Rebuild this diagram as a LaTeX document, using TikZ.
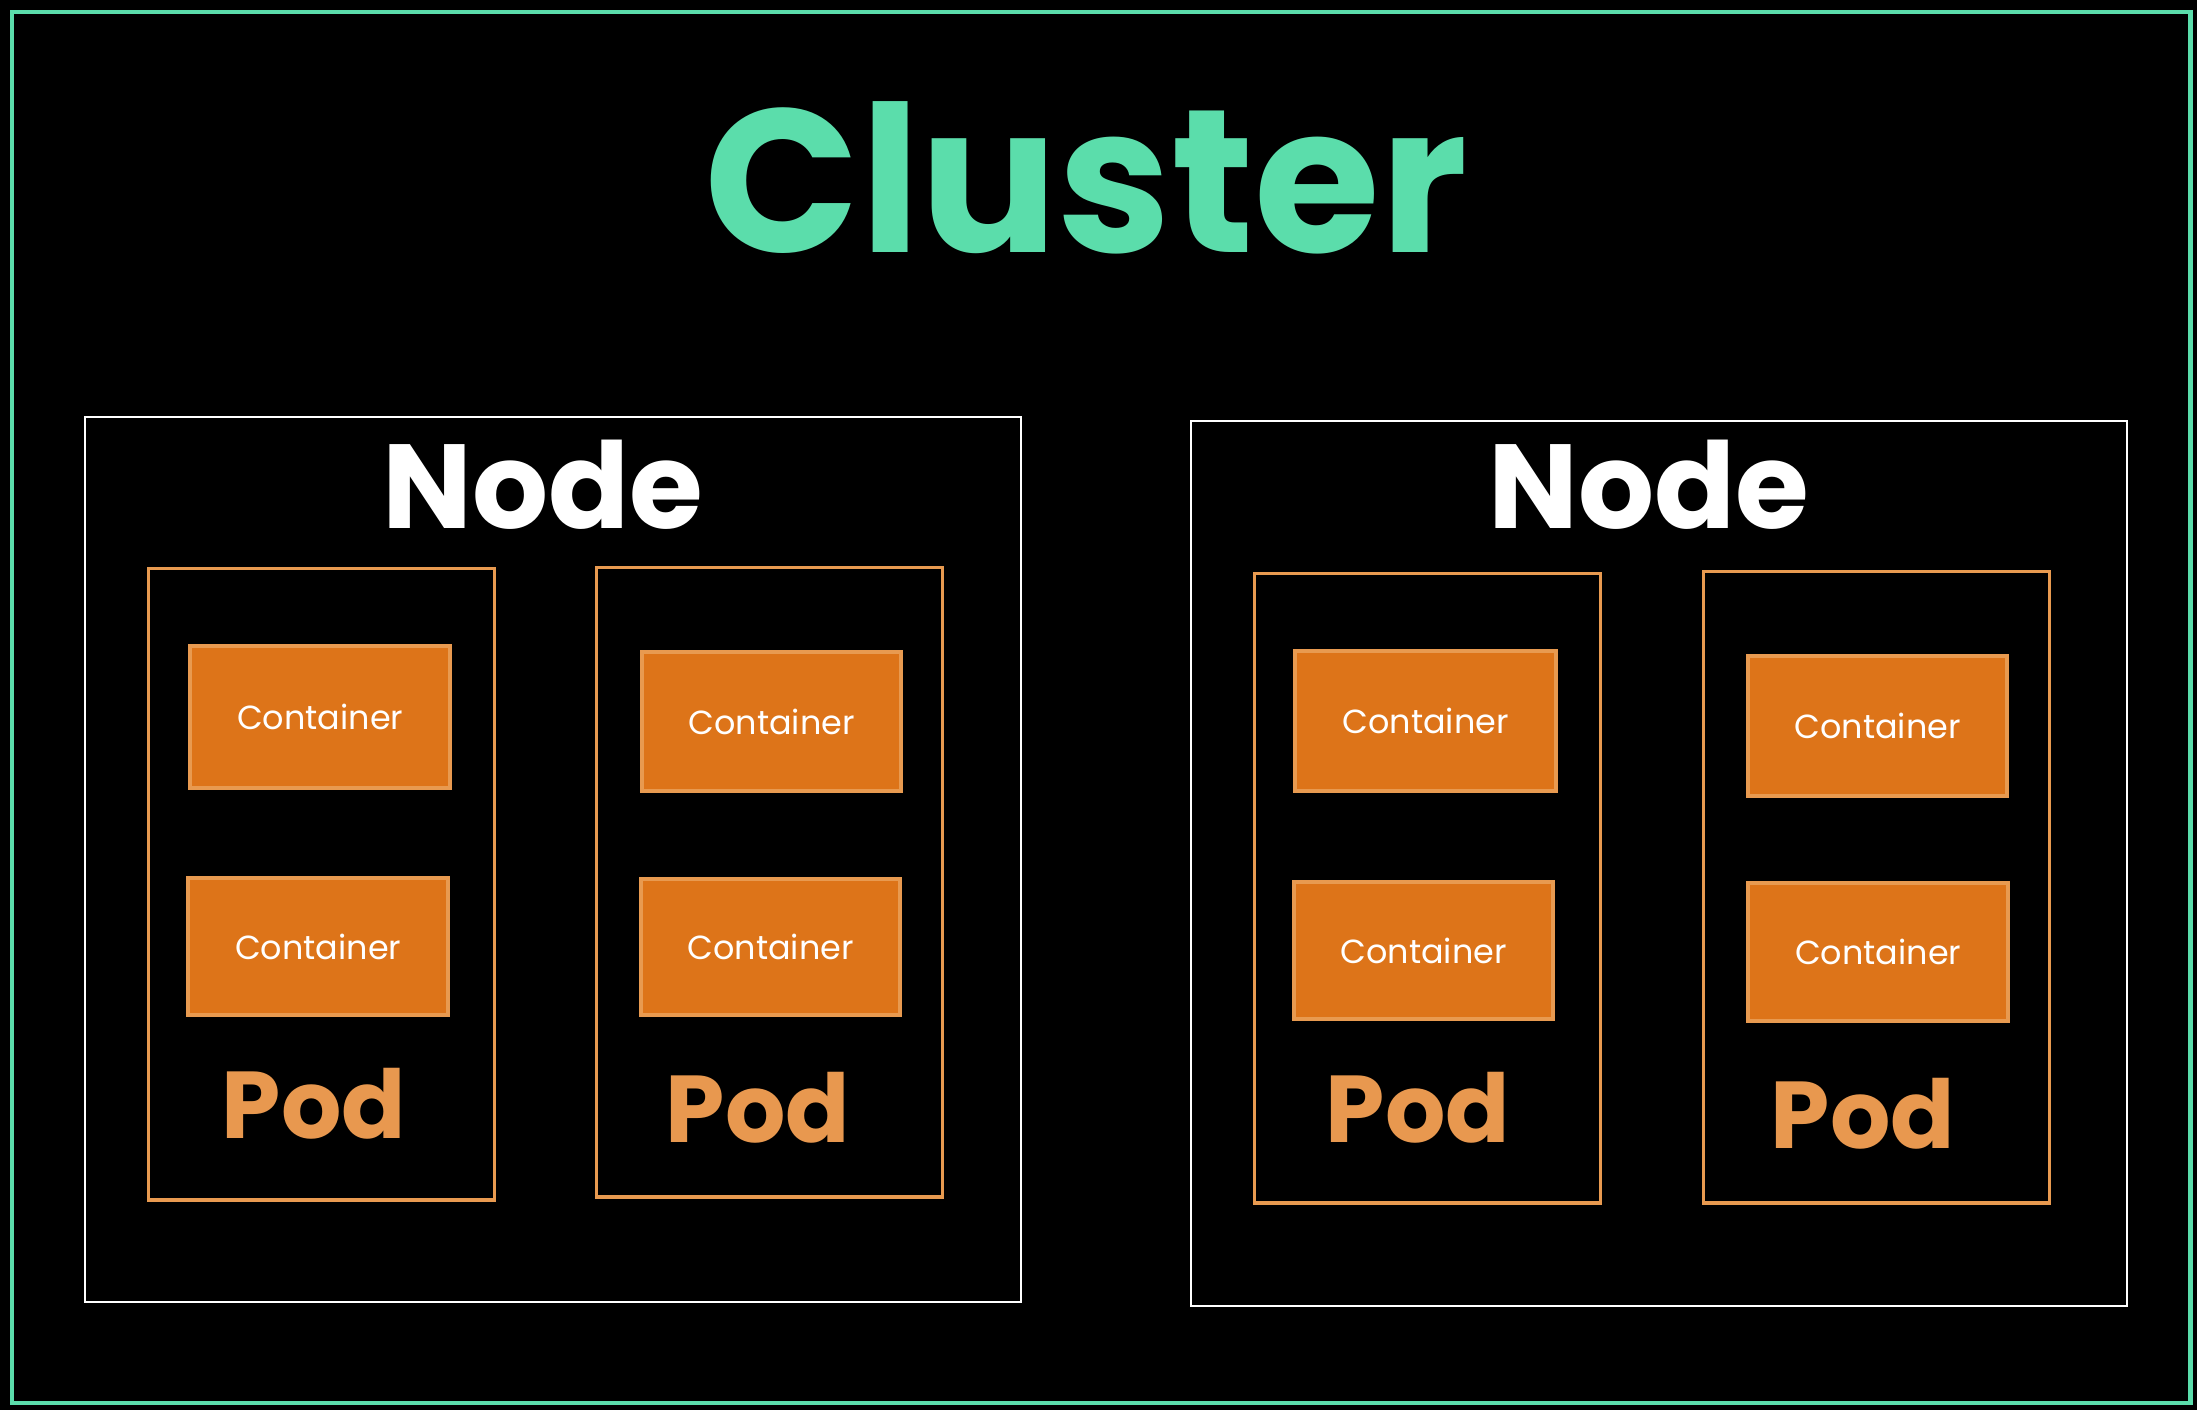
\documentclass[tikz,border=0pt]{standalone}
\usepackage{fontspec}
\setmainfont{Poppins}
\definecolor{clgreen}{HTML}{5BDDAB}
\definecolor{cfill}{HTML}{DD7419}
\definecolor{cstroke}{HTML}{E89A50}
\definecolor{podtxt}{HTML}{E8984F}
\tikzset{
  nodebox/.style={draw=white, line width=0.6pt, inner sep=0pt, anchor=north west},
  podbox/.style={draw=cstroke, line width=0.9pt, inner sep=0pt, anchor=north west},
  contbox/.style={draw=cstroke, fill=cfill, line width=1.2pt, inner sep=0pt, anchor=north west, text=white, font=\fontsize{9.5}{12}\selectfont},
  podlabel/.style={text=podtxt, font=\fontsize{27}{30}\selectfont\bfseries, inner sep=0pt},
  nodelabel/.style={text=white, font=\fontsize{34}{40}\selectfont\bfseries, inner sep=0pt},
}
\begin{document}
\begin{tikzpicture}[x=0.01cm, y=-0.01cm]
\fill[black] (0,0) rectangle (2197,1410);
\useasboundingbox (0,0) rectangle (2197,1410);
% cluster
\node[draw=clgreen, line width=1.2pt, inner sep=0pt, anchor=north west, minimum width=21.77cm, minimum height=13.90cm] (cluster) at (10,10) {};
\node[text=clgreen, font=\fontsize{58}{70}\selectfont\bfseries, inner sep=0pt] (clusterlabel) at (1086,178) {Cluster};
% nodes
\node[nodebox, minimum width=9.35cm, minimum height=8.84cm] (nodeL) at (84,416) {};
\node[nodebox, minimum width=9.35cm, minimum height=8.84cm] (nodeR) at (1190,420) {};
\node[nodelabel] (nodeLlabel) at (543,485) {Node};
\node[nodelabel] (nodeRlabel) at (1649,485) {Node};
% pods
\node[podbox, minimum width=3.46cm, minimum height=6.31cm] (podL1) at (147,567) {};
\node[podbox, minimum width=3.46cm, minimum height=6.29cm] (podL2) at (595,566) {};
\node[podbox, minimum width=3.46cm, minimum height=6.29cm] (podR1) at (1253,572) {};
\node[podbox, minimum width=3.46cm, minimum height=6.31cm] (podR2) at (1702,570) {};
% containers
\node[contbox, minimum width=2.60cm, minimum height=1.42cm] (cL1a) at (188,644) {Container};
\node[contbox, minimum width=2.60cm, minimum height=1.37cm] (cL1b) at (186,876) {Container};
\node[contbox, minimum width=2.59cm, minimum height=1.39cm] (cL2a) at (640,650) {Container};
\node[contbox, minimum width=2.59cm, minimum height=1.36cm] (cL2b) at (639,877) {Container};
\node[contbox, minimum width=2.61cm, minimum height=1.40cm] (cR1a) at (1293,649) {Container};
\node[contbox, minimum width=2.59cm, minimum height=1.37cm] (cR1b) at (1292,880) {Container};
\node[contbox, minimum width=2.59cm, minimum height=1.40cm] (cR2a) at (1746,654) {Container};
\node[contbox, minimum width=2.60cm, minimum height=1.38cm] (cR2b) at (1746,881) {Container};
% pod labels
\node[podlabel] (pL1) at (314,1104) {Pod};
\node[podlabel] (pL2) at (758,1108) {Pod};
\node[podlabel] (pR1) at (1418,1108) {Pod};
\node[podlabel] (pR2) at (1863,1114) {Pod};
\end{tikzpicture}
\end{document}
